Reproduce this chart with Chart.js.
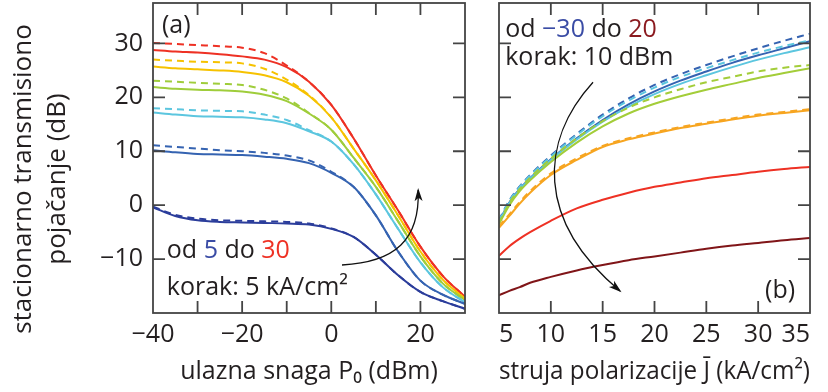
<!DOCTYPE html>
<html>
<head>
<meta charset="utf-8">
<script src="https://cdn.jsdelivr.net/npm/chart.js@4.4.1/dist/chart.umd.min.js"></script>
<style>
  html, body { margin: 0; padding: 0; background: #ffffff; }
  #wrap { position: relative; width: 828px; height: 392px; overflow: hidden; }
  #gainVsPower { position: absolute; left: 0; top: 0; }
  #gainVsCurrent { position: absolute; left: 480px; top: 0; }
</style>
</head>
<body>
<div id="wrap">
  <canvas id="gainVsPower" width="480" height="392"></canvas>
  <canvas id="gainVsCurrent" width="348" height="392"></canvas>
</div>
<script>
// ---- (a) gain vs. input power, one curve per bias current density ----
const inputPower = [-40, -35, -30, -25, -20, -15, -10, -5, 0, 5, 10, 15, 20, 25, 30];

const gainJ5   = [-0.4, -2.0, -2.8, -3.1, -3.2, -3.3, -3.4, -3.6, -4.4, -5.9, -9.2, -13.0, -16.1, -17.8, -19.2];
const gainJ10  = [10.2, 9.8, 9.5, 9.4, 9.3, 9.0, 8.6, 7.8, 6.0, 3.4, -1.9, -8.6, -14.0, -16.6, -18.3];
const gainJ15  = [17.2, 16.8, 16.5, 16.4, 16.3, 15.9, 15.2, 13.7, 11.8, 7.6, 2.0, -4.4, -10.6, -15.2, -18.0];
const gainJ20  = [21.9, 21.6, 21.4, 21.3, 21.1, 20.5, 19.3, 17.0, 14.0, 8.8, 3.4, -3.0, -9.5, -14.5, -17.6];
const gainJ25  = [25.7, 25.4, 25.2, 25.0, 24.7, 24.1, 22.8, 20.3, 16.3, 10.5, 4.6, -1.9, -8.6, -13.8, -17.3];
const gainJ30  = [28.8, 28.5, 28.3, 28.0, 27.6, 27.0, 25.6, 22.9, 18.6, 12.4, 5.5, -1.0, -7.7, -13.1, -17.0];

const gainJ5d  = [-0.3, -1.8, -2.5, -2.8, -2.9, -3.0, -3.1, -3.4, -4.3, -5.9, -9.2, -13.0, -16.1, -17.8, -19.2];
const gainJ10d = [11.1, 10.8, 10.5, 10.2, 10.0, 9.7, 9.2, 8.3, 6.2, 3.4, -1.9, -8.6, -14.0, -16.6, -18.3];
const gainJ15d = [18.0, 17.8, 17.6, 17.5, 17.4, 16.8, 15.8, 13.9, 11.8, 7.6, 2.0, -4.4, -10.6, -15.2, -18.0];
const gainJ20d = [23.1, 22.9, 22.7, 22.5, 22.3, 21.4, 19.8, 17.1, 14.0, 8.8, 3.4, -3.0, -9.5, -14.5, -17.6];
const gainJ25d = [27.0, 26.8, 26.6, 26.5, 26.3, 25.3, 23.3, 20.4, 16.3, 10.5, 4.6, -1.9, -8.6, -13.8, -17.3];
const gainJ30d = [30.1, 29.9, 29.7, 29.5, 29.2, 28.2, 25.9, 22.9, 18.6, 12.4, 5.5, -1.0, -7.7, -13.1, -17.0];

// ---- (b) gain vs. bias current density, one curve per input power ----
const currentDensity = [5, 6, 7, 8, 10, 12.5, 15, 17.5, 20, 22.5, 25, 27.5, 30, 32.5, 35];

const gainPm30  = [-3.0, 0.5, 3.0, 5.0, 8.5, 12.4, 15.8, 18.7, 21.1, 23.1, 24.8, 26.4, 27.8, 29.1, 30.4];
const gainPm20  = [-3.1, 0.4, 2.9, 4.9, 8.4, 12.2, 15.5, 18.3, 20.6, 22.5, 24.1, 25.6, 27.0, 28.2, 29.3];
const gainPm10  = [-3.5, 0.0, 2.6, 4.6, 8.0, 11.6, 14.6, 17.0, 18.8, 20.2, 21.4, 22.5, 23.6, 24.5, 25.4];
const gainP0    = [-4.2, -2.0, 0.3, 2.3, 5.6, 8.4, 10.8, 12.2, 13.3, 14.3, 15.1, 15.9, 16.6, 17.1, 17.6];
const gainP10   = [-9.4, -7.6, -6.2, -5.0, -2.9, -0.6, 1.0, 2.3, 3.4, 4.2, 5.0, 5.6, 6.2, 6.7, 7.1];
const gainP20   = [-16.7, -15.9, -15.2, -14.4, -13.3, -12.1, -11.1, -10.2, -9.5, -8.8, -8.1, -7.5, -7.0, -6.5, -6.1];

const gainPm30d = [-2.8, 0.9, 3.5, 5.6, 9.2, 13.2, 16.8, 19.8, 22.3, 24.3, 26.0, 27.6, 29.1, 30.5, 31.8];
const gainPm20d = [-2.9, 0.8, 3.4, 5.5, 9.0, 13.0, 16.5, 19.4, 21.8, 23.8, 25.4, 26.9, 28.3, 29.5, 30.6];
const gainPm10d = [-3.3, 0.4, 3.0, 5.1, 8.6, 12.4, 15.6, 18.1, 20.0, 21.5, 22.8, 23.8, 24.8, 25.5, 26.0];
const gainP0d   = [-3.9, -1.7, 0.6, 2.6, 5.9, 8.7, 11.0, 12.4, 13.5, 14.5, 15.3, 16.1, 16.8, 17.3, 17.8];

// ---- axis ticks and labels ----
const powerTicks   = [-40, -30, -20, -10, 0, 10, 20, 30];
const powerLabels  = [-40, -20, 0, 20];
const gainTicks    = [-20, -10, 0, 10, 20, 30];
const gainLabels   = [-10, 0, 10, 20, 30];
const currentTicks = [5, 10, 15, 20, 25, 30, 35];
const gainTitle    = ['stacionarno transmisiono', 'poja\u010danje (dB)'];

// ---- styling ----
const FONT = "'Open Sans', 'DejaVu Sans', sans-serif";
const FONT_SIZE = 25;
const TEXT = '#231f20';
const FRAME = '#444444';
const colJ = { 5: '#2b3d9b', 10: '#3563b1', 15: '#5cc6df', 20: '#9fcd3b', 25: '#f6c200', 30: '#ee3124' };
const colP = { m30: '#3563b1', m20: '#5cc6df', m10: '#a3cd39', p0: '#f7a520', p10: '#ee3124', p20: '#801518' };

const fmt = v => (v < 0 ? '\u2212' + Math.abs(v) : String(v));
const pts = (xs, ys) => xs.map((x, i) => ({ x, y: ys[i] }));

function line(xs, ys, color, dashed) {
  return {
    data: pts(xs, ys),
    borderColor: color,
    borderWidth: 2,
    borderDash: dashed ? [7, 5] : [],
    pointRadius: 0,
    fill: false,
    cubicInterpolationMode: 'monotone'
  };
}

// fixed axis box size, without the extra edge padding for overhanging labels
function fixBox(prop, size) {
  return s => {
    s[prop] = size;
    s.paddingTop = 0; s.paddingBottom = 0; s.paddingLeft = 0; s.paddingRight = 0;
  };
}

// frame around the plot area with inward-pointing ticks on all four sides
const frameTicks = {
  id: 'frameTicks',
  afterDraw(chart, args, opts) {
    const { ctx, chartArea: a, scales } = chart;
    const len = 12;
    ctx.save();
    ctx.strokeStyle = FRAME;
    ctx.lineWidth = 1.8;
    ctx.strokeRect(a.left, a.top, a.right - a.left, a.bottom - a.top);
    ctx.beginPath();
    for (const v of opts.xTicks) {
      const px = scales.x.getPixelForValue(v);
      if (px <= a.left + 1 || px >= a.right - 1) continue;
      ctx.moveTo(px, a.bottom); ctx.lineTo(px, a.bottom - len);
      ctx.moveTo(px, a.top); ctx.lineTo(px, a.top + len);
    }
    for (const v of opts.yTicks) {
      const py = scales.y.getPixelForValue(v);
      if (py <= a.top + 1 || py >= a.bottom - 1) continue;
      ctx.moveTo(a.left, py); ctx.lineTo(a.left + len, py);
      ctx.moveTo(a.right, py); ctx.lineTo(a.right - len, py);
    }
    ctx.stroke();
    ctx.restore();
  }
};

// two-line rotated title of the gain axis, drawn a little below the plot centre
const gainAxisTitle = {
  id: 'gainAxisTitle',
  afterDraw(chart, args, opts) {
    if (!opts.lines) return;
    const { ctx, chartArea: a } = chart;
    const cy = (a.top + a.bottom) / 2 + opts.shift;
    ctx.save();
    ctx.font = opts.size + 'px ' + FONT;
    ctx.fillStyle = TEXT;
    ctx.textAlign = 'center';
    ctx.textBaseline = 'middle';
    opts.lines.forEach((s, i) => {
      ctx.save();
      ctx.translate(opts.x + i * opts.lineGap, cy);
      ctx.rotate(-Math.PI / 2);
      ctx.fillText(s, 0, 0);
      ctx.restore();
    });
    ctx.restore();
  }
};

// text notes and the curved arrows, placed in data coordinates
const notes = {
  id: 'notes',
  afterDatasetsDraw(chart, args, opts) {
    const { ctx, scales } = chart;
    const X = v => scales.x.getPixelForValue(v);
    const Y = v => scales.y.getPixelForValue(v);
    ctx.save();
    ctx.font = FONT_SIZE + 'px ' + FONT;
    ctx.textBaseline = 'middle';
    ctx.textAlign = 'left';
    for (const t of opts.texts) {
      let cx = X(t.at[0]);
      const cy = Y(t.at[1]);
      for (const [s, c] of t.parts) {
        ctx.fillStyle = c;
        ctx.fillText(s, cx, cy);
        cx += ctx.measureText(s).width;
      }
    }
    for (const ar of opts.arrows) {
      const p = ar.map(([x, y]) => [X(x), Y(y)]);
      ctx.strokeStyle = '#111';
      ctx.fillStyle = '#111';
      ctx.lineWidth = 1.3;
      ctx.beginPath();
      ctx.moveTo(p[0][0], p[0][1]);
      ctx.bezierCurveTo(p[1][0], p[1][1], p[2][0], p[2][1], p[3][0], p[3][1]);
      ctx.stroke();
      const ang = Math.atan2(p[3][1] - p[2][1], p[3][0] - p[2][0]);
      const hl = 11, hw = 4;
      ctx.beginPath();
      ctx.moveTo(p[3][0] + Math.cos(ang) * 2, p[3][1] + Math.sin(ang) * 2);
      ctx.lineTo(p[3][0] - Math.cos(ang) * hl - Math.sin(ang) * hw, p[3][1] - Math.sin(ang) * hl + Math.cos(ang) * hw);
      ctx.lineTo(p[3][0] - Math.cos(ang) * hl * 0.7, p[3][1] - Math.sin(ang) * hl * 0.7);
      ctx.lineTo(p[3][0] - Math.cos(ang) * hl + Math.sin(ang) * hw, p[3][1] - Math.sin(ang) * hl - Math.cos(ang) * hw);
      ctx.closePath();
      ctx.fill();
    }
    ctx.restore();
  }
};

const tickFont = { family: FONT, size: FONT_SIZE };
const titleFont = { family: FONT, size: FONT_SIZE, lineHeight: 1.32 };

// ---------- chart (a) ----------
new Chart(document.getElementById('gainVsPower'), {
  type: 'line',
  data: {
    datasets: [
      line(inputPower, gainJ5d, colJ[5], true),
      line(inputPower, gainJ10d, colJ[10], true),
      line(inputPower, gainJ15d, colJ[15], true),
      line(inputPower, gainJ20d, colJ[20], true),
      line(inputPower, gainJ25d, colJ[25], true),
      line(inputPower, gainJ30d, colJ[30], true),
      line(inputPower, gainJ5, colJ[5], false),
      line(inputPower, gainJ10, colJ[10], false),
      line(inputPower, gainJ15, colJ[15], false),
      line(inputPower, gainJ20, colJ[20], false),
      line(inputPower, gainJ25, colJ[25], false),
      line(inputPower, gainJ30, colJ[30], false)
    ]
  },
  options: {
    responsive: false,
    animation: false,
    devicePixelRatio: 1,
    layout: { padding: { top: 3, right: 15, left: 0, bottom: 0 } },
    plugins: {
      legend: { display: false },
      tooltip: { enabled: false },
      frameTicks: { xTicks: powerTicks, yTicks: gainTicks },
      gainAxisTitle: { lines: gainTitle, size: 26, x: 24, lineGap: 34, shift: 21 },
      notes: {
        texts: [
          { at: [-38.0, 33.3], parts: [['(a)', TEXT]] },
          { at: [-36.9, -8.5], parts: [['od ', TEXT], ['5', '#3a4ca5'], [' do ', TEXT], ['30', '#ee3124']] },
          { at: [-36.9, -15.3], parts: [['korak: 5 kA/cm\u00b2', TEXT]] }
        ],
        arrows: [
          [[2.4, -11.1], [14.3, -10.6], [19.9, -6.5], [19.5, 2.8]]
        ]
      }
    },
    scales: {
      x: {
        type: 'linear', min: -40, max: 30,
        grid: { display: false, drawTicks: false },
        border: { display: false },
        ticks: {
          stepSize: 10, autoSkip: false, maxRotation: 0, padding: 7,
          color: TEXT, font: tickFont,
          callback: v => (powerLabels.includes(v) ? fmt(v) : '')
        },
        title: {
          display: true, text: 'ulazna snaga P\u2080 (dBm)', color: TEXT, font: titleFont,
          padding: { top: 0, bottom: 4 }
        },
        afterFit: fixBox('height', 79)
      },
      y: {
        type: 'linear', min: -20, max: 37.5,
        grid: { display: false, drawTicks: false },
        border: { display: false },
        ticks: {
          stepSize: 10, autoSkip: false, padding: 10,
          color: TEXT, font: tickFont,
          callback: v => (gainLabels.includes(v) ? fmt(v) : '')
        },
        afterFit: fixBox('width', 153)
      }
    }
  },
  plugins: [frameTicks, notes, gainAxisTitle]
});

// ---------- chart (b) ----------
new Chart(document.getElementById('gainVsCurrent'), {
  type: 'line',
  data: {
    datasets: [
      line(currentDensity, gainP20, colP.p20, false),
      line(currentDensity, gainP10, colP.p10, false),
      line(currentDensity, gainP0, colP.p0, false),
      line(currentDensity, gainP0d, colP.p0, true),
      line(currentDensity, gainPm10, colP.m10, false),
      line(currentDensity, gainPm10d, colP.m10, true),
      line(currentDensity, gainPm20, colP.m20, false),
      line(currentDensity, gainPm20d, colP.m20, true),
      line(currentDensity, gainPm30, colP.m30, false),
      line(currentDensity, gainPm30d, colP.m30, true)
    ]
  },
  options: {
    responsive: false,
    animation: false,
    devicePixelRatio: 1,
    layout: { padding: { top: 3, right: 18, left: 0, bottom: 0 } },
    plugins: {
      legend: { display: false },
      tooltip: { enabled: false },
      frameTicks: { xTicks: currentTicks, yTicks: gainTicks },
      notes: {
        texts: [
          { at: [5.6, 32.6], parts: [['od ', TEXT], ['\u221230', '#3a4ca5'], [' do ', TEXT], ['20', '#8b1a1f']] },
          { at: [5.6, 27.3], parts: [['korak: 10 dBm', TEXT]] },
          { at: [30.66, -15.9], parts: [['(b)', TEXT]] }
        ],
        arrows: [
          [[14.07, 22.8], [8.95, 12.0], [8.47, -2.8], [16.67, -15.9]]
        ]
      }
    },
    scales: {
      x: {
        type: 'linear', min: 5, max: 35,
        grid: { display: false, drawTicks: false },
        border: { display: false },
        ticks: {
          stepSize: 5, autoSkip: false, maxRotation: 0, padding: 7, align: 'inner',
          color: TEXT, font: tickFont,
          callback: v => (currentTicks.includes(v) ? fmt(v) : '')
        },
        title: {
          display: true, text: 'struja polarizacije J\u0304 (kA/cm\u00b2)', color: TEXT, font: titleFont,
          padding: { top: 0, bottom: 4 }
        },
        afterFit: fixBox('height', 79)
      },
      y: {
        type: 'linear', min: -20, max: 37.5,
        grid: { display: false, drawTicks: false },
        border: { display: false },
        ticks: { display: false, stepSize: 10 },
        afterFit: fixBox('width', 19)
      }
    }
  },
  plugins: [frameTicks, notes]
});
</script>
</body>
</html>
